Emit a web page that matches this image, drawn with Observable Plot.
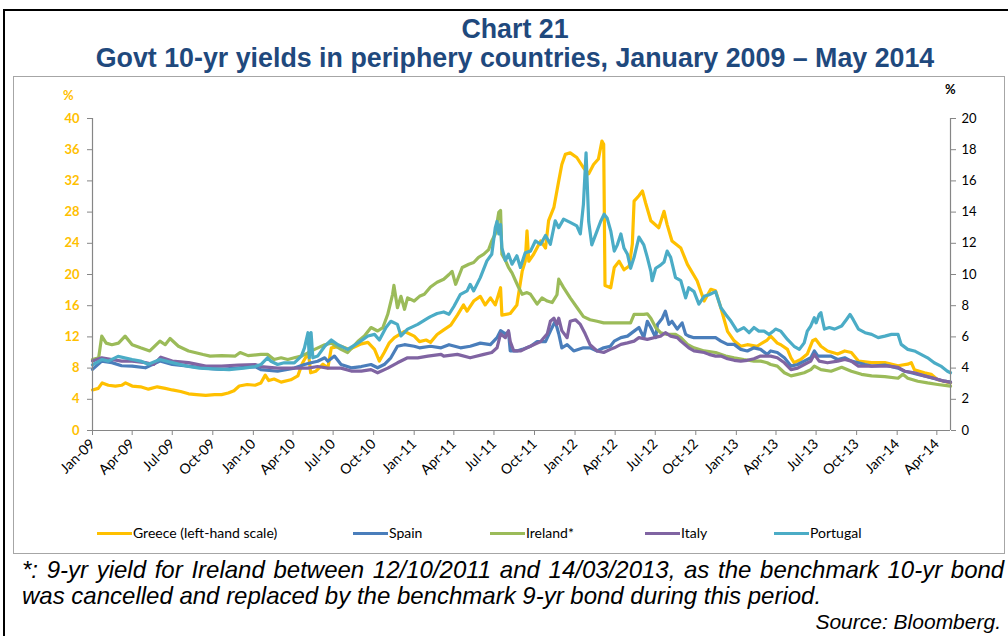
<!DOCTYPE html>
<html><head><meta charset="utf-8">
<script src="https://cdn.jsdelivr.net/npm/d3@7"></script>
<script src="https://cdn.jsdelivr.net/npm/@observablehq/plot@0.6"></script>
<style>
body{margin:0;background:#fff;}
#wrap{position:relative;width:1008px;height:636px;overflow:hidden;font-family:"Liberation Sans",Arial,sans-serif;background:#fff;}
#outer{position:absolute;left:3px;top:9px;width:1100px;height:700px;border-left:2px solid #000;border-top:2px solid #000;}
#inner{position:absolute;left:13px;top:76px;width:990px;height:476px;border:1px solid #a6a6a6;}
.title{position:absolute;left:0;width:1030px;text-align:center;font-weight:bold;color:#1F497D;font-size:26.8px;line-height:26px;white-space:nowrap;}
.pct{position:absolute;font-family:Lato,sans-serif;font-weight:bold;font-size:13px;}
#chart{position:absolute;left:0;top:80px;}
#legend{position:absolute;left:0;top:524px;width:1008px;height:18px;font-family:Lato,sans-serif;font-size:14px;}
.li{position:absolute;top:0;height:18px;line-height:18px;white-space:nowrap;}
.sw{display:inline-block;width:35px;height:3px;vertical-align:middle;margin-right:1px;position:relative;top:-1px;}
#note{position:absolute;left:22px;top:557px;width:1000px;font-style:italic;font-size:24px;line-height:26px;color:#000;white-space:nowrap;}
#src{position:absolute;right:7px;top:609px;font-style:italic;font-size:21px;line-height:26px;}
</style></head><body>
<div id="wrap">
<div id="outer"></div>
<div id="inner"></div>
<div class="title" style="top:16px">Chart 21</div>
<div class="title" style="top:45px">Govt 10-yr yields in periphery countries, January 2009 – May 2014</div>
<div class="pct" style="left:63px;top:87px;color:#FFC000">%</div>
<div class="pct" style="left:945px;top:81px;color:#000">%</div>
<div id="chart"></div>
<div id="legend"></div>
<div id="note"><span style="word-spacing:2px">*: 9-yr yield for Ireland between 12/10/2011 and 14/03/2013, as the benchmark 10-yr bond</span><br>was cancelled and replaced by the benchmark 9-yr bond during this period.</div>
<div id="src">Source: Bloomberg.</div>
</div>
<script>
// ---- data ----
const seriesNames = ["Greece (left-hand scale)", "Spain", "Ireland*", "Italy", "Portugal"];
const seriesColors = ["#FFC000", "#4A7EBB", "#9BBB59", "#8064A2", "#4BACC6"];
const seriesAxis = ["left", "right", "right", "right", "right"];
const leftTicks = [0, 4, 8, 12, 16, 20, 24, 28, 32, 36, 40];
const rightTickLabels = [0, 2, 4, 6, 8, 10, 12, 14, 16, 18, 20];
const xStart = "2009-01-01", xEnd = "2014-05-02";

const greece = [["2009-01-01",5.2],["2009-01-14",5.4],["2009-01-23",6.1],["2009-02-06",5.8],["2009-02-22",5.7],["2009-03-08",5.8],["2009-03-17",6.1],["2009-04-01",5.7],["2009-04-20",5.6],["2009-05-08",5.3],["2009-05-28",5.6],["2009-06-15",5.4],["2009-07-01",5.2],["2009-07-20",5.0],["2009-08-07",4.7],["2009-08-25",4.6],["2009-09-15",4.5],["2009-10-05",4.6],["2009-10-21",4.6],["2009-11-05",4.8],["2009-11-18",5.1],["2009-11-30",5.7],["2009-12-18",5.9],["2010-01-05",5.8],["2010-01-18",6.1],["2010-01-28",7.1],["2010-02-05",6.4],["2010-02-17",6.6],["2010-03-05",6.2],["2010-03-27",6.5],["2010-04-12",7.0],["2010-04-22",8.6],["2010-04-28",9.2],["2010-05-06",10.0],["2010-05-11",7.4],["2010-05-23",7.6],["2010-06-08",8.5],["2010-06-19",8.0],["2010-06-27",10.6],["2010-07-19",10.8],["2010-08-07",10.4],["2010-09-03",11.1],["2010-09-18",11.3],["2010-10-03",10.4],["2010-10-14",8.9],["2010-10-25",10.0],["2010-11-05",11.2],["2010-11-17",11.9],["2010-12-10",12.7],["2011-01-01",12.1],["2011-01-13",11.4],["2011-01-28",11.6],["2011-02-07",11.3],["2011-02-22",12.3],["2011-03-09",12.9],["2011-03-25",13.5],["2011-04-09",14.8],["2011-04-23",16.1],["2011-05-01",15.3],["2011-05-16",16.6],["2011-05-31",17.2],["2011-06-11",16.1],["2011-06-23",17.0],["2011-07-04",16.1],["2011-07-16",18.3],["2011-07-19",14.8],["2011-08-07",15.0],["2011-08-22",16.1],["2011-09-03",20.4],["2011-09-10",21.7],["2011-09-14",25.6],["2011-09-18",21.7],["2011-09-29",22.6],["2011-10-15",24.3],["2011-10-26",23.4],["2011-11-02",26.9],["2011-11-14",28.6],["2011-11-25",32.0],["2011-12-02",34.1],["2011-12-10",35.4],["2011-12-21",35.6],["2012-01-05",35.0],["2012-01-20",33.7],["2012-02-01",32.9],["2012-02-12",34.1],["2012-02-23",34.8],["2012-03-02",37.1],["2012-03-06",36.7],["2012-03-09",18.6],["2012-03-22",18.3],["2012-03-30",20.9],["2012-04-10",21.7],["2012-04-21",20.6],["2012-05-03",21.1],["2012-05-10",23.9],["2012-05-14",29.4],["2012-05-25",30.1],["2012-06-02",30.7],["2012-06-09",29.2],["2012-06-21",26.9],["2012-07-09",26.0],["2012-07-21",28.1],["2012-07-28",26.4],["2012-08-08",24.3],["2012-08-28",23.4],["2012-09-12",21.3],["2012-10-04",19.2],["2012-10-20",16.6],["2012-11-04",18.1],["2012-11-15",17.9],["2012-11-27",15.7],["2012-12-12",12.7],["2012-12-27",11.5],["2013-01-11",10.8],["2013-01-26",11.0],["2013-02-17",10.8],["2013-03-12",11.6],["2013-03-20",12.1],["2013-04-04",11.2],["2013-04-12",11.0],["2013-04-27",10.4],["2013-05-05",9.3],["2013-05-12",8.7],["2013-05-27",9.1],["2013-06-11",9.8],["2013-06-23",11.5],["2013-06-30",11.7],["2013-07-12",10.8],["2013-07-27",10.2],["2013-08-19",9.8],["2013-09-04",10.2],["2013-09-19",10.0],["2013-10-05",8.9],["2013-11-04",8.7],["2013-12-04",8.7],["2014-01-03",8.3],["2014-01-25",8.5],["2014-02-02",8.7],["2014-02-09",7.8],["2014-03-04",7.4],["2014-03-19",7.2],["2014-04-03",6.5],["2014-05-02",6.1]];

const spain = [["2009-01-01",3.92],["2009-01-22",4.45],["2009-02-14",4.35],["2009-03-08",4.15],["2009-04-01",4.13],["2009-05-01",4.02],["2009-06-03",4.45],["2009-07-01",4.23],["2009-08-07",4.13],["2009-09-06",4.02],["2009-10-21",3.92],["2009-11-28",4.02],["2010-01-05",4.1],["2010-01-18",3.9],["2010-02-25",3.8],["2010-04-04",4.0],["2010-04-27",4.23],["2010-05-12",4.34],["2010-05-27",4.44],["2010-06-12",4.66],["2010-06-19",4.44],["2010-07-04",4.77],["2010-07-19",4.23],["2010-08-11",4.02],["2010-09-03",4.1],["2010-09-25",4.23],["2010-10-10",4.02],["2010-10-25",4.23],["2010-11-09",4.66],["2010-11-24",5.4],["2010-12-10",5.5],["2011-01-01",5.4],["2011-01-13",5.3],["2011-02-07",5.4],["2011-03-03",5.3],["2011-03-21",5.5],["2011-04-16",5.3],["2011-05-08",5.4],["2011-05-31",5.6],["2011-06-23",5.5],["2011-07-08",5.95],["2011-07-16",6.4],["2011-07-27",6.2],["2011-08-03",6.3],["2011-08-07",5.1],["2011-08-22",5.1],["2011-09-03",5.2],["2011-09-22",5.4],["2011-10-07",5.7],["2011-10-26",5.7],["2011-11-06",6.38],["2011-11-17",7.0],["2011-11-25",6.2],["2011-12-02",5.3],["2011-12-14",5.5],["2011-12-29",5.1],["2012-01-20",5.3],["2012-02-04",5.3],["2012-02-20",5.1],["2012-03-06",5.3],["2012-03-21",5.4],["2012-03-30",5.73],["2012-04-14",5.95],["2012-04-29",6.05],["2012-05-14",6.37],["2012-05-25",6.6],["2012-06-05",5.95],["2012-06-13",7.0],["2012-06-21",6.6],["2012-07-02",5.95],["2012-07-06",6.8],["2012-07-17",7.2],["2012-07-24",7.65],["2012-08-01",6.8],["2012-08-08",7.0],["2012-08-20",6.5],["2012-08-31",6.9],["2012-09-08",6.16],["2012-09-15",6.05],["2012-09-27",5.95],["2012-10-20",5.95],["2012-11-04",5.95],["2012-11-15",5.95],["2012-11-27",5.73],["2012-12-12",5.52],["2012-12-27",5.52],["2013-01-11",5.2],["2013-01-26",5.1],["2013-02-10",5.3],["2013-02-25",5.2],["2013-03-12",4.88],["2013-03-20",5.1],["2013-04-04",5.0],["2013-04-20",4.66],["2013-05-05",4.13],["2013-05-20",4.23],["2013-06-04",4.45],["2013-06-19",4.66],["2013-06-27",5.1],["2013-07-05",4.77],["2013-07-20",4.77],["2013-08-04",4.77],["2013-08-19",4.55],["2013-09-04",4.66],["2013-09-19",4.45],["2013-10-05",4.34],["2013-10-20",4.23],["2013-11-04",4.13],["2013-12-04",4.2],["2014-01-03",4.0],["2014-01-18",3.8],["2014-02-02",3.7],["2014-02-17",3.6],["2014-03-04",3.5],["2014-03-19",3.38],["2014-04-03",3.27],["2014-04-18",3.16],["2014-05-02",3.1]];

const ireland = [["2009-01-01",4.55],["2009-01-15",4.66],["2009-01-22",6.05],["2009-02-01",5.6],["2009-02-14",5.5],["2009-03-01",5.6],["2009-03-16",6.05],["2009-04-01",5.5],["2009-04-20",5.3],["2009-05-11",5.1],["2009-06-03",5.73],["2009-06-15",5.5],["2009-06-26",5.9],["2009-07-15",5.4],["2009-08-07",5.1],["2009-09-09",4.87],["2009-09-25",4.77],["2009-10-21",4.8],["2009-11-21",4.77],["2009-12-02",5.0],["2009-12-20",4.8],["2010-01-18",4.88],["2010-02-02",4.88],["2010-02-17",4.55],["2010-03-05",4.66],["2010-03-20",4.55],["2010-04-04",4.66],["2010-04-20",4.77],["2010-05-05",4.98],["2010-05-20",5.2],["2010-06-12",5.5],["2010-06-27",5.6],["2010-07-19",5.2],["2010-08-03",5.0],["2010-08-26",5.7],["2010-09-10",6.06],["2010-09-25",6.6],["2010-10-10",6.38],["2010-10-22",6.6],["2010-11-02",7.45],["2010-11-13",8.73],["2010-11-16",9.3],["2010-11-24",7.87],["2010-12-02",8.6],["2010-12-10",7.77],["2010-12-17",8.5],["2011-01-01",8.3],["2011-01-13",8.6],["2011-01-24",8.73],["2011-02-07",9.2],["2011-02-22",9.5],["2011-03-09",9.7],["2011-03-21",10.0],["2011-03-28",10.2],["2011-04-05",9.37],["2011-04-20",10.45],["2011-05-05",10.66],["2011-05-16",10.77],["2011-05-27",11.1],["2011-06-08",11.3],["2011-06-19",11.6],["2011-06-26",12.15],["2011-07-04",12.6],["2011-07-12",14.0],["2011-07-16",14.1],["2011-07-19",11.3],["2011-07-27",10.9],["2011-08-03",10.45],["2011-08-11",10.1],["2011-08-19",9.6],["2011-08-26",9.16],["2011-09-03",8.73],["2011-09-14",8.84],["2011-09-22",8.73],["2011-10-07",8.1],["2011-10-18",8.5],["2011-10-30",8.3],["2011-11-10",8.2],["2011-11-21",8.7],["2011-11-25",9.7],["2011-12-06",9.16],["2011-12-21",8.5],["2012-01-05",7.9],["2012-01-20",7.3],["2012-02-04",7.1],["2012-02-20",7.0],["2012-03-06",6.9],["2012-03-22",6.9],["2012-04-14",6.9],["2012-05-06",6.9],["2012-05-14",7.44],["2012-06-05",7.44],["2012-06-13",7.48],["2012-06-21",7.2],["2012-07-02",6.6],["2012-07-13",6.27],["2012-07-28",6.16],["2012-08-16",6.16],["2012-08-28",5.95],["2012-09-12",5.52],["2012-09-27",5.3],["2012-10-20",5.1],["2012-11-15",5.0],["2012-12-08",4.77],["2012-12-27",4.66],["2013-01-18",4.55],["2013-02-10",4.45],["2013-02-25",4.45],["2013-03-12",4.34],["2013-03-20",4.23],["2013-04-04",4.13],["2013-04-20",3.7],["2013-05-05",3.5],["2013-05-20",3.6],["2013-06-04",3.7],["2013-06-19",3.9],["2013-06-27",4.13],["2013-07-12",3.9],["2013-08-04",3.8],["2013-08-28",4.05],["2013-09-19",3.8],["2013-10-12",3.6],["2013-11-04",3.5],["2013-12-04",3.45],["2014-01-03",3.35],["2014-01-14",3.6],["2014-01-25",3.35],["2014-02-17",3.16],["2014-03-11",3.05],["2014-04-03",2.95],["2014-05-02",2.84]];

const italy = [["2009-01-01",4.45],["2009-01-22",4.66],["2009-02-14",4.55],["2009-03-08",4.45],["2009-04-01",4.45],["2009-05-01",4.35],["2009-05-20",4.23],["2009-06-05",4.7],["2009-07-01",4.45],["2009-08-07",4.35],["2009-09-15",4.13],["2009-10-21",4.13],["2009-11-28",4.2],["2010-01-05",4.23],["2010-01-18",4.1],["2010-02-25",4.0],["2010-04-04",4.0],["2010-05-05",4.0],["2010-05-27",4.1],["2010-06-19",4.0],["2010-07-19",4.0],["2010-08-11",3.81],["2010-09-03",3.81],["2010-09-25",3.9],["2010-10-10",3.7],["2010-11-02",4.0],["2010-11-24",4.34],["2010-12-17",4.66],["2011-01-09",4.66],["2011-02-01",4.77],["2011-03-03",4.88],["2011-03-09",4.77],["2011-04-09",4.88],["2011-05-08",4.66],["2011-06-08",4.88],["2011-06-26",5.0],["2011-07-08",5.3],["2011-07-16",6.2],["2011-07-27",5.95],["2011-08-03",6.4],["2011-08-07",5.7],["2011-08-15",5.1],["2011-08-30",5.1],["2011-09-14",5.3],["2011-09-29",5.5],["2011-10-15",5.7],["2011-10-30",6.2],["2011-11-06",7.0],["2011-11-14",7.2],["2011-11-21",6.8],["2011-11-25",7.2],["2011-12-02",6.4],["2011-12-14",5.95],["2011-12-21",7.0],["2012-01-02",7.1],["2012-01-13",6.8],["2012-01-24",6.2],["2012-02-04",5.5],["2012-02-20",5.1],["2012-03-06",5.0],["2012-03-21",5.2],["2012-03-30",5.3],["2012-04-14",5.52],["2012-04-29",5.62],["2012-05-14",5.73],["2012-05-25",5.95],["2012-06-13",5.84],["2012-06-28",5.95],["2012-07-13",6.05],["2012-07-24",6.27],["2012-08-05",6.05],["2012-08-20",5.95],["2012-08-28",5.73],["2012-09-15",5.3],["2012-09-27",5.1],["2012-10-20",5.0],["2012-10-31",4.88],["2012-11-15",4.77],["2012-11-27",4.77],["2012-12-12",4.6],["2012-12-27",4.5],["2013-01-11",4.45],["2013-01-26",4.5],["2013-02-10",4.6],["2013-02-25",4.77],["2013-03-12",4.77],["2013-03-20",4.77],["2013-04-04",4.66],["2013-04-20",4.34],["2013-05-05",3.9],["2013-05-20",4.0],["2013-06-04",4.23],["2013-06-19",4.45],["2013-06-27",4.88],["2013-07-08",4.45],["2013-07-27",4.34],["2013-08-19",4.45],["2013-09-04",4.55],["2013-09-19",4.45],["2013-10-05",4.13],["2013-10-28",4.13],["2013-11-19",4.13],["2013-12-12",4.13],["2014-01-03",4.05],["2014-01-18",3.8],["2014-02-09",3.7],["2014-03-04",3.5],["2014-03-26",3.35],["2014-04-18",3.16],["2014-05-02",3.1]];

const portugal = [["2009-01-01",4.2],["2009-01-22",4.55],["2009-02-06",4.45],["2009-02-28",4.75],["2009-04-01",4.55],["2009-04-20",4.45],["2009-05-08",4.25],["2009-06-03",4.55],["2009-07-01",4.35],["2009-08-07",4.1],["2009-09-01",4.0],["2009-10-01",3.95],["2009-11-07",3.9],["2009-12-10",4.0],["2010-01-05",4.1],["2010-01-18",4.23],["2010-02-02",4.66],["2010-02-10",4.44],["2010-02-25",4.23],["2010-03-12",4.34],["2010-04-04",4.34],["2010-04-20",4.77],["2010-04-27",5.3],["2010-05-05",6.27],["2010-05-08",4.66],["2010-05-12",6.27],["2010-05-16",4.66],["2010-05-27",4.77],["2010-06-12",5.4],["2010-06-27",5.8],["2010-07-12",5.5],["2010-08-03",5.2],["2010-08-26",5.6],["2010-09-18",6.06],["2010-10-03",6.16],["2010-10-14",5.8],["2010-10-29",6.6],["2010-11-09",7.0],["2010-11-24",6.8],["2010-12-02",6.06],["2010-12-17",6.5],["2011-01-09",6.8],["2011-02-01",7.2],["2011-02-07",7.3],["2011-02-22",7.5],["2011-03-09",7.6],["2011-03-21",7.45],["2011-04-01",7.95],["2011-04-16",8.73],["2011-05-01",8.95],["2011-05-08",9.37],["2011-05-16",8.95],["2011-05-31",9.8],["2011-06-15",10.87],["2011-06-26",11.3],["2011-07-04",13.0],["2011-07-08",13.4],["2011-07-12",12.6],["2011-07-16",13.2],["2011-07-19",11.7],["2011-07-27",10.9],["2011-08-03",11.3],["2011-08-11",10.66],["2011-08-22",11.2],["2011-08-30",10.45],["2011-09-10",11.4],["2011-09-22",11.5],["2011-10-03",12.15],["2011-10-15",11.94],["2011-10-26",12.5],["2011-11-06",11.94],["2011-11-17",13.44],["2011-11-25",13.0],["2011-12-06",13.55],["2011-12-21",13.34],["2012-01-05",13.12],["2012-01-13",12.6],["2012-01-20",14.5],["2012-01-26",17.8],["2012-02-01",13.4],["2012-02-08",11.9],["2012-02-20",12.8],["2012-02-28",13.4],["2012-03-07",13.86],["2012-03-14",13.6],["2012-03-22",12.8],["2012-03-30",11.5],["2012-04-06",11.9],["2012-04-14",12.6],["2012-04-21",11.7],["2012-04-29",11.3],["2012-05-06",10.4],["2012-05-14",11.1],["2012-05-25",12.4],["2012-06-05",11.9],["2012-06-13",11.1],["2012-06-21",10.2],["2012-06-24",9.6],["2012-07-02",10.4],["2012-07-13",10.6],["2012-07-21",10.8],["2012-07-28",11.5],["2012-08-05",11.1],["2012-08-16",9.8],["2012-08-28",9.6],["2012-09-08",8.5],["2012-09-15",9.15],["2012-09-27",8.9],["2012-10-08",8.1],["2012-10-20",8.6],["2012-10-31",8.7],["2012-11-15",8.9],["2012-11-27",7.87],["2012-12-08",7.44],["2012-12-20",7.0],["2013-01-03",6.37],["2013-01-18",6.6],["2013-01-30",6.27],["2013-02-10",6.6],["2013-02-21",6.37],["2013-03-05",6.37],["2013-03-16",6.16],["2013-03-27",6.4],["2013-03-31",6.5],["2013-04-12",6.37],["2013-04-27",5.84],["2013-05-12",5.4],["2013-05-24",5.2],["2013-06-04",5.62],["2013-06-11",6.37],["2013-06-19",6.7],["2013-06-27",7.23],["2013-07-01",6.9],["2013-07-08",7.44],["2013-07-12",7.55],["2013-07-16",7.0],["2013-07-20",6.5],["2013-07-31",6.6],["2013-08-12",6.5],["2013-08-28",6.7],["2013-09-08",7.12],["2013-09-16",7.44],["2013-09-23",7.12],["2013-10-05",6.5],["2013-10-20",6.27],["2013-11-04",6.16],["2013-11-19",5.95],["2013-12-04",6.05],["2013-12-19",6.16],["2014-01-03",6.16],["2014-01-10",5.52],["2014-01-25",5.2],["2014-02-09",5.1],["2014-02-24",4.88],["2014-03-11",4.66],["2014-03-26",4.34],["2014-04-10",4.13],["2014-04-25",3.8],["2014-05-02",3.7]];

const allSeries = [greece, spain, ireland, italy, portugal];

// ---- chart ----
const x0 = new Date(xStart), x1 = new Date(xEnd);
const quarterTicks = d3.utcMonth.every(3).range(x0, x1);
const axisGrey = "#868686";

const lineMarks = allSeries.map((s, i) =>
  Plot.line(s, {
    x: d => new Date(d[0]),
    y: d => seriesAxis[i] === "left" ? d[1] : d[1] * 2,
    stroke: seriesColors[i], strokeWidth: 3.2, strokeLinejoin: "round", strokeLinecap: "round"
  }));

const chart = Plot.plot({
  width: 1008, height: 440,
  marginTop: 38, marginBottom: 90, marginLeft: 92, marginRight: 58,
  x: {type: "utc", domain: [x0, x1]},
  y: {domain: [0, 40]},
  style: {fontFamily: "Lato, sans-serif", fontSize: "13px", color: "#000", background: "transparent", overflow: "visible"},
  marks: [
    Plot.axisY({anchor: "left", ticks: leftTicks, tickSize: 5, tickPadding: 8, stroke: axisGrey, fill: "#FFC000", fontWeight: "bold", label: null}),
    Plot.axisY({anchor: "right", ticks: leftTicks, tickFormat: (d, i) => String(rightTickLabels[i]), tickSize: 5, tickPadding: 6, stroke: axisGrey, fill: "#000", label: null}),
    Plot.axisX({ticks: quarterTicks, tickFormat: d3.utcFormat("%b-%y"), tickRotate: -45, tickSize: 5, tickPadding: 6, fontSize: 14, stroke: axisGrey, fill: "#000", label: null}),
    ...lineMarks,
    Plot.ruleY([0], {stroke: axisGrey, strokeWidth: 1.2}),
    Plot.ruleX([x0, x1], {stroke: axisGrey, strokeWidth: 1.2})
  ]
});
document.getElementById("chart").appendChild(chart);

// ---- legend ----
const legendLeft = [97, 353, 490, 645, 774];
const legend = document.getElementById("legend");
seriesNames.forEach((name, i) => {
  const item = document.createElement("div");
  item.className = "li";
  item.style.left = legendLeft[i] + "px";
  item.innerHTML = `<span class="sw" style="background:${seriesColors[i]}"></span>${name}`;
  legend.appendChild(item);
});
</script>
</body></html>
